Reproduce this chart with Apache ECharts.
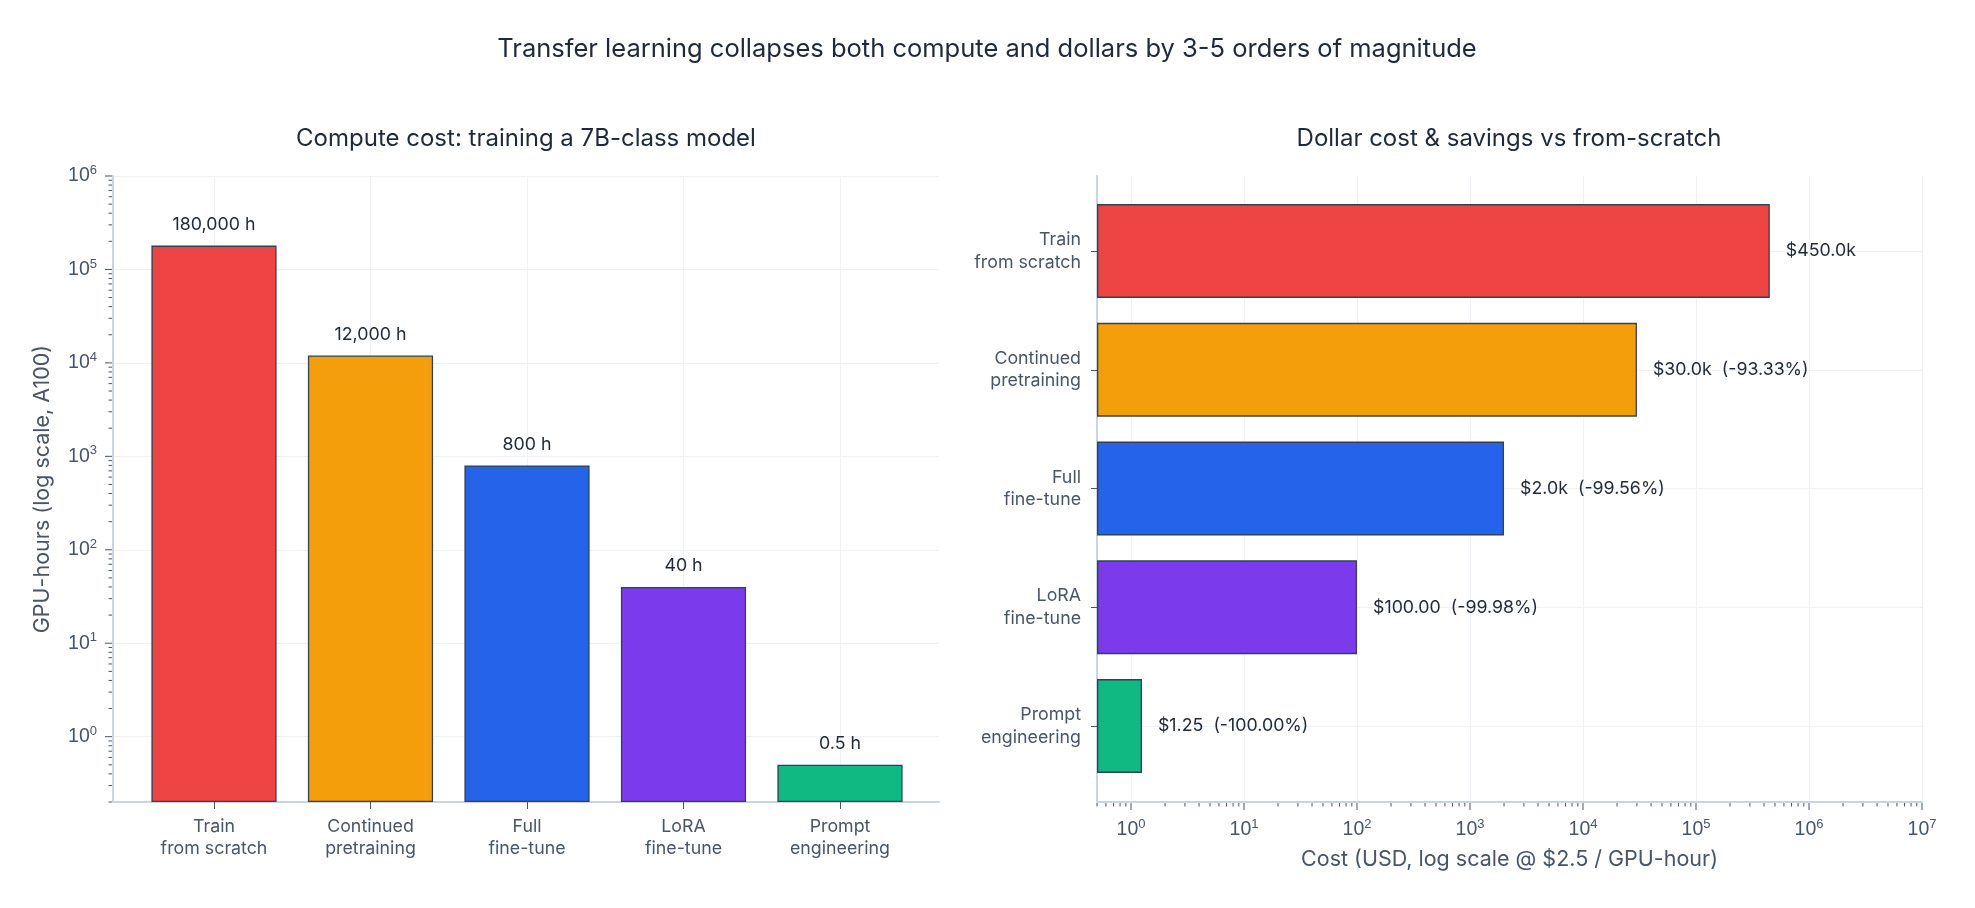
<!DOCTYPE html>
<html>
<head>
<meta charset="utf-8">
<script src="https://cdn.jsdelivr.net/npm/echarts@6/dist/echarts.min.js"></script>
<style>
html, body { margin: 0; padding: 0; background: #fff; }
#chart { width: 1975px; height: 908px; }
</style>
</head>
<body>
<div id="chart"></div>
<script>
// data
var methods = ['Train\nfrom scratch', 'Continued\npretraining', 'Full\nfine-tune', 'LoRA\nfine-tune', 'Prompt\nengineering'];
var barColors = ['#ef4444', '#f59e0b', '#2563eb', '#7c3aed', '#10b981'];
var gpuHours = [180000, 12000, 800, 40, 0.5];
var dollarCost = [450000, 30000, 2000, 100, 1.25];
var savingsPct = [null, -93.33, -99.56, -99.98, -100.00];
var hoursRange = [0.2, 1e6];
var costRange = [0.5, 1e7];
var minorMantissas = [2, 3, 4, 5, 6, 7, 8, 9];

var FONT = 'Inter, Liberation Sans, sans-serif';
var TICKFONT = 'Liberation Sans, Arial, sans-serif';
var TXT = '#475569';
var DARK = '#1e293b';
var AXIS = '#cbd5e1';
var GRID = '#eef2f7';

function isPow10(v) {
    var l = Math.log10(v);
    return Math.abs(l - Math.round(l)) < 1e-9;
}

function logTicks(range) {
    var out = [];
    var lo = Math.floor(Math.log10(range[0]));
    var hi = Math.ceil(Math.log10(range[1]));
    for (var e = lo; e <= hi; e++) {
        [1].concat(minorMantissas).forEach(function (m) {
            var v = m * Math.pow(10, e);
            if (v >= range[0] * 0.9999 && v <= range[1] * 1.0001) out.push(v);
        });
    }
    return out;
}

function powLabel(v) {
    if (!isPow10(v)) return '';
    return '{b|10}{s|' + Math.round(Math.log10(v)) + '}';
}

var powRich = {
    b: { fontSize: 19.5, color: TXT, fontFamily: TICKFONT, lineHeight: 24 },
    s: { fontSize: 13, color: TXT, fontFamily: TICKFONT, verticalAlign: 'top', lineHeight: 24 }
};

function costLabel(i) {
    var v = dollarCost[i];
    var s = v >= 1000 ? '$' + (v / 1000).toFixed(1) + 'k' : '$' + v.toFixed(2);
    if (savingsPct[i] !== null) s += '  (' + savingsPct[i].toFixed(2) + '%)';
    return s;
}

var chart = echarts.init(document.getElementById('chart'));

var option = {
    backgroundColor: '#fff',
    animation: false,
    textStyle: { fontFamily: FONT },
    title: [
        { text: 'Transfer learning collapses both compute and dollars by 3-5 orders of magnitude',
          left: 987, top: 36, textAlign: 'center', padding: 0,
          textStyle: { fontSize: 25.5, fontWeight: 'normal', color: DARK, fontFamily: FONT } },
        { text: 'Compute cost: training a 7B-class model',
          left: 526, top: 127, textAlign: 'center', padding: 0,
          textStyle: { fontSize: 24, fontWeight: 'normal', color: DARK, fontFamily: FONT } },
        { text: 'Dollar cost & savings vs from-scratch',
          left: 1509, top: 127, textAlign: 'center', padding: 0,
          textStyle: { fontSize: 24, fontWeight: 'normal', color: DARK, fontFamily: FONT } }
    ],
    grid: [
        // left: frame + log axis
        { left: 113, top: 176, width: 826, height: 626 },
        // left: bars, categories at tick points
        { left: 214, top: 176, width: 626, height: 626 },
        // right: frame + log axis
        { left: 1097, top: 176, width: 825, height: 626 },
        // right: bars
        { left: 1097, top: 251, width: 825, height: 475 }
    ],
    xAxis: [
        { gridIndex: 0, type: 'value', min: 0, max: 1,
          axisLine: { show: true, lineStyle: { color: AXIS, width: 2 } },
          axisTick: { show: false }, axisLabel: { show: false }, splitLine: { show: false } },
        { gridIndex: 1, type: 'category', data: methods, boundaryGap: false,
          axisLine: { show: false },
          axisTick: { show: true, length: 7, lineStyle: { color: TXT, width: 1 } },
          axisLabel: { interval: 0, margin: 14, fontSize: 17.8, lineHeight: 21.5, color: TXT, fontFamily: FONT },
          splitLine: { show: true, lineStyle: { color: GRID, width: 1 } } },
        { gridIndex: 2, type: 'log', logBase: 10, min: costRange[0], max: costRange[1],
          axisLine: { show: true, lineStyle: { color: AXIS, width: 2 } },
          axisTick: { show: false },
          axisLabel: { formatter: powLabel, rich: powRich, margin: 16 },
          splitLine: { show: true, lineStyle: { color: GRID, width: 1 } },
          name: 'Cost (USD, log scale @ $2.5 / GPU-hour)', nameLocation: 'middle', nameGap: 47,
          nameTextStyle: { fontSize: 21.5, color: TXT, fontFamily: FONT } },
        { gridIndex: 3, type: 'log', logBase: 10, min: costRange[0], max: costRange[1], startValue: costRange[0],
          show: false }
    ],
    yAxis: [
        { gridIndex: 0, type: 'log', logBase: 10, min: hoursRange[0], max: hoursRange[1],
          axisLine: { show: true, lineStyle: { color: AXIS, width: 2 } },
          axisTick: { show: false },
          axisLabel: { formatter: powLabel, rich: powRich, margin: 16 },
          splitLine: { show: true, lineStyle: { color: GRID, width: 1 } },
          name: 'GPU-hours (log scale, A100)', nameLocation: 'middle', nameGap: 59,
          nameTextStyle: { fontSize: 21.5, color: TXT, fontFamily: FONT } },
        { gridIndex: 1, type: 'log', logBase: 10, min: hoursRange[0], max: hoursRange[1], startValue: hoursRange[0],
          show: false },
        { gridIndex: 2, type: 'value', min: 0, max: 1,
          axisLine: { show: true, lineStyle: { color: AXIS, width: 2 } },
          axisTick: { show: false }, axisLabel: { show: false }, splitLine: { show: false } },
        { gridIndex: 3, type: 'category', data: methods, inverse: true, boundaryGap: false,
          axisLine: { show: false },
          axisTick: { show: true, length: 6, lineStyle: { color: TXT, width: 1 } },
          axisLabel: { interval: 0, margin: 16, fontSize: 17.8, lineHeight: 22.5,
                       color: TXT, fontFamily: FONT, align: 'right' },
          splitLine: { show: true, lineStyle: { color: GRID, width: 1 } } }
    ],
    series: [
        {
            type: 'bar', xAxisIndex: 1, yAxisIndex: 1, barWidth: '80%', clip: false,
            data: gpuHours.map(function (v, i) {
                return { value: v, itemStyle: { color: barColors[i] } };
            }),
            itemStyle: { borderColor: '#334155', borderWidth: 1.3 },
            label: {
                show: true, position: 'top', distance: 12,
                fontSize: 17.8, color: '#1f2937', fontFamily: FONT,
                formatter: function (p) { return p.value.toLocaleString('en-US') + ' h'; }
            }
        },
        {
            type: 'bar', xAxisIndex: 3, yAxisIndex: 3, barWidth: '79%', clip: false,
            data: dollarCost.map(function (v, i) {
                return { value: v, itemStyle: { color: barColors[i] } };
            }),
            itemStyle: { borderColor: '#334155', borderWidth: 1.3 },
            label: {
                show: true, position: 'right', distance: 16,
                fontSize: 17.8, color: '#1f2937', fontFamily: FONT,
                formatter: function (p) { return costLabel(p.dataIndex); }
            }
        },
        // log ticks on the left y axis
        {
            type: 'custom', xAxisIndex: 0, yAxisIndex: 0, clip: false, silent: true, z: 5,
            data: logTicks(hoursRange).map(function (v) { return [0, v]; }),
            renderItem: function (params, api) {
                var v = api.value(1);
                var p = api.coord([0, v]);
                var len = isPow10(v) ? 7 : 3.5;
                return { type: 'line', shape: { x1: p[0] - 1 - len, y1: p[1], x2: p[0] - 1, y2: p[1] },
                         style: { stroke: TXT, lineWidth: 1 } };
            }
        },
        // log ticks on the right x axis
        {
            type: 'custom', xAxisIndex: 2, yAxisIndex: 2, clip: false, silent: true, z: 5,
            data: logTicks(costRange).map(function (v) { return [v, 0]; }),
            renderItem: function (params, api) {
                var v = api.value(0);
                var p = api.coord([v, 0]);
                var len = isPow10(v) ? 7 : 3.5;
                return { type: 'line', shape: { x1: p[0], y1: p[1] + 1, x2: p[0], y2: p[1] + 1 + len },
                         style: { stroke: TXT, lineWidth: 1 } };
            }
        }
    ]
};

chart.setOption(option);
</script>
</body>
</html>
